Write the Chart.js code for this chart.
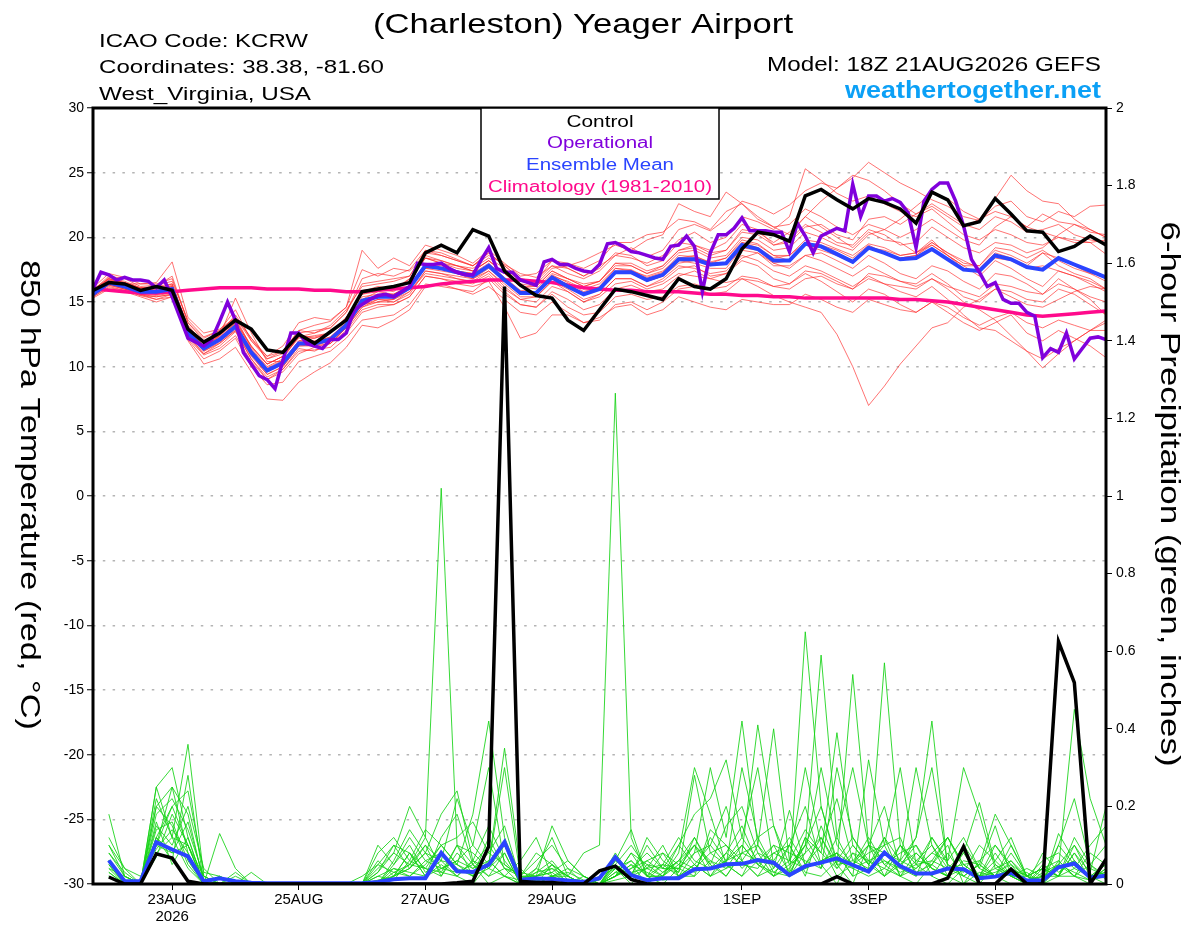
<!DOCTYPE html>
<html>
<head>
<meta charset="utf-8">
<title>(Charleston) Yeager Airport</title>
<script src="https://cdn.jsdelivr.net/npm/chart.js@4"></script>
<style>
  html, body { margin: 0; padding: 0; background: #fff; }
  canvas { display: block; }
</style>
</head>
<body>
<canvas id="chart" width="1200" height="927"></canvas>
<script>
// forecast hours (6-hourly ensemble, 3-hourly operational)
const hours6 = [
  0, 6, 12, 18, 24, 30, 36, 42,
  48, 54, 60, 66, 72, 78, 84, 90,
  96, 102, 108, 114, 120, 126, 132, 138,
  144, 150, 156, 162, 168, 174, 180, 186,
  192, 198, 204, 210, 216, 222, 228, 234,
  240, 246, 252, 258, 264, 270, 276, 282,
  288, 294, 300, 306, 312, 318, 324, 330,
  336, 342, 348, 354, 360, 366, 372, 378,
  384
];
const hours3 = [
  0, 3, 6, 9, 12, 15, 18, 21,
  24, 27, 30, 33, 36, 39, 42, 45,
  48, 51, 54, 57, 60, 63, 66, 69,
  72, 75, 78, 81, 84, 87, 90, 93,
  96, 99, 102, 105, 108, 111, 114, 117,
  120, 123, 126, 129, 132, 135, 138, 141,
  144, 147, 150, 153, 156, 159, 162, 165,
  168, 171, 174, 177, 180, 183, 186, 189,
  192, 195, 198, 201, 204, 207, 210, 213,
  216, 219, 222, 225, 228, 231, 234, 237,
  240, 243, 246, 249, 252, 255, 258, 261,
  264, 267, 270, 273, 276, 279, 282, 285,
  288, 291, 294, 297, 300, 303, 306, 309,
  312, 315, 318, 321, 324, 327, 330, 333,
  336, 339, 342, 345, 348, 351, 354, 357,
  360, 363, 366, 369, 372, 375, 378, 381,
  384
];
// 6-hour precip is valid at the end of each window, so it starts at hour 6
const precipHours = hours6.slice(1);

const xTickHours = [30, 78, 126, 174, 246, 294, 342];
const xTickLabels = [['23AUG', '2026'], '25AUG', '27AUG', '29AUG', '1SEP', '3SEP', '5SEP'];

// 850 hPa temperature (C)
const tempControl = [
  15.9, 16.5, 16.4, 15.9, 16.2, 15.9, 12.9, 11.9,
  12.6, 13.6, 12.9, 11.3, 11.1, 12.5, 11.8, 12.7,
  13.6, 15.8, 16.0, 16.2, 16.5, 18.8, 19.4, 18.8,
  20.6, 20.1, 17.4, 16.3, 15.5, 15.3, 13.6, 12.8,
  14.4, 16.0, 15.8, 15.5, 15.2, 16.8, 16.2, 16.0,
  16.8, 19.1, 20.4, 20.2, 19.7, 23.2, 23.7, 22.9,
  22.2, 23.0, 22.7, 22.2, 21.1, 23.5, 22.9, 20.9,
  21.2, 23.0, 21.8, 20.5, 20.4, 18.9, 19.3, 20.1,
  19.4
];
const tempMean = [
  15.6, 16.5, 16.2, 15.8, 15.8, 16.0, 12.6, 11.4,
  12.1, 13.1, 11.1, 9.7, 10.3, 11.8, 11.8, 12.1,
  13.2, 15.1, 15.4, 15.4, 16.1, 17.8, 17.6, 17.3,
  17.0, 17.8, 16.7, 15.7, 15.7, 16.9, 16.2, 15.6,
  16.0, 17.3, 17.3, 16.7, 17.1, 18.3, 18.3, 17.9,
  18.0, 19.4, 19.1, 18.2, 18.2, 19.5, 19.3, 18.7,
  18.1, 19.2, 18.8, 18.3, 18.4, 19.1, 18.3, 17.5,
  17.4, 18.6, 18.3, 17.7, 17.5, 18.4, 17.9, 17.4,
  16.9
];
const tempClimo = [
  16.0, 15.9, 15.8, 15.7, 15.7, 15.8, 15.9, 16.0,
  16.1, 16.1, 16.1, 16.0, 16.0, 16.0, 15.9, 15.9,
  15.8, 15.8, 15.9, 16.0, 16.1, 16.2, 16.4, 16.5,
  16.6, 16.7, 16.7, 16.7, 16.6, 16.5, 16.3, 16.1,
  16.0, 15.9, 15.9, 15.8, 15.8, 15.8, 15.7, 15.6,
  15.6, 15.5, 15.5, 15.4, 15.4, 15.3, 15.3, 15.3,
  15.3, 15.3, 15.3, 15.2, 15.2, 15.1, 15.0, 14.8,
  14.6, 14.4, 14.2, 14.0, 13.9, 14.0, 14.1, 14.2,
  14.3
];
const tempOper = [
  16.0, 17.3, 17.1, 16.7, 16.9, 16.7, 16.7, 16.6,
  16.1, 16.7, 15.4, 13.8, 12.2, 11.9, 11.6, 12.1,
  13.5, 15.0, 13.6, 11.1, 10.2, 9.3, 9.0, 8.3,
  10.5, 12.6, 12.6, 11.8, 11.6, 11.4, 12.1, 12.1,
  12.6, 14.4, 14.8, 15.2, 15.5, 15.6, 15.4, 15.8,
  16.2, 18.0, 17.9, 17.9, 18.0, 17.6, 17.3, 17.1,
  17.1, 18.2, 19.2, 17.6, 17.3, 17.3, 16.7, 16.5,
  16.3, 18.1, 18.3, 17.9, 17.9, 17.6, 17.4, 17.3,
  17.9, 19.5, 19.6, 19.3, 18.9, 18.8, 18.6, 18.4,
  18.3, 19.3, 19.4, 20.1, 19.3, 15.8, 18.8, 20.2,
  20.2, 20.7, 21.5, 20.5, 20.5, 20.5, 20.4, 20.4,
  18.9, 21.1, 20.1, 18.8, 20.1, 20.4, 20.7, 20.5,
  24.1, 21.6, 23.2, 23.2, 22.8, 23.0, 22.7, 21.9,
  19.2, 22.8, 23.7, 24.2, 24.2, 22.8, 20.9, 18.3,
  17.3, 16.2, 16.5, 15.2, 14.9, 14.9, 14.2, 13.9,
  10.7, 11.4, 11.1, 12.6, 10.6, 11.4, 12.2, 12.3,
  12.1
];
// ensemble members, 6-hourly
const tempMembers = [
  [15.8, 16.8, 16.5, 16.0, 15.9, 16.3, 13.2, 11.8, 12.4, 13.8, 11.5, 10.2, 10.8, 12.3, 12.6, 13.0, 14.2, 16.8, 17.2, 17.0, 17.5, 19.0, 18.8, 18.3, 17.8, 18.6, 17.9, 17.2, 16.9, 17.8, 17.6, 17.0, 17.8, 18.6, 19.2, 18.5, 19.0, 20.6, 21.0, 20.5, 21.4, 22.8, 22.4, 21.8, 22.5, 23.6, 24.2, 23.8, 24.6, 25.8, 25.0, 24.2, 23.6, 22.9, 22.4, 21.6, 21.3, 22.4, 22.8, 21.6, 21.2, 22.0, 21.6, 22.4, 22.5],
  [15.5, 16.3, 16.0, 15.6, 15.2, 15.6, 12.3, 11.0, 11.6, 12.7, 10.6, 9.0, 9.6, 11.0, 11.5, 11.8, 13.0, 14.8, 15.0, 15.2, 15.8, 17.2, 17.0, 16.8, 16.5, 17.2, 16.0, 15.2, 15.0, 16.2, 15.8, 15.0, 15.4, 16.4, 16.6, 16.0, 16.4, 17.2, 17.0, 16.8, 16.5, 16.8, 16.2, 15.5, 15.0, 14.6, 14.2, 12.5, 10.0, 7.0, 8.5, 10.2, 11.6, 13.0, 13.4, 14.6, 15.2, 16.0, 15.4, 14.8, 14.6, 15.2, 15.8, 16.2, 16.0],
  [15.9, 17.0, 16.8, 16.2, 16.3, 16.6, 13.6, 12.3, 12.8, 14.4, 12.0, 10.8, 11.2, 12.8, 13.2, 13.5, 14.6, 17.5, 17.0, 17.6, 17.4, 18.6, 18.2, 17.8, 17.6, 18.4, 17.6, 16.6, 16.4, 17.6, 17.8, 18.2, 18.8, 19.4, 19.0, 19.8, 20.2, 22.6, 22.0, 21.6, 23.5, 22.6, 21.4, 20.8, 20.2, 21.6, 20.8, 20.0, 19.2, 20.4, 19.8, 19.6, 18.8, 19.8, 18.6, 17.8, 17.0, 18.2, 17.6, 16.8, 16.2, 17.4, 17.0, 16.4, 15.8],
  [15.3, 16.0, 15.8, 15.4, 15.0, 15.4, 12.0, 10.2, 10.6, 11.5, 9.6, 7.5, 7.4, 8.8, 9.6, 10.3, 11.5, 13.2, 13.0, 13.6, 14.4, 16.2, 16.4, 16.0, 15.8, 16.8, 15.6, 14.8, 14.6, 15.8, 15.2, 14.4, 14.8, 16.0, 16.3, 15.8, 16.0, 17.0, 17.4, 16.8, 17.2, 18.4, 18.8, 18.0, 17.6, 18.6, 18.8, 18.2, 17.6, 18.6, 18.0, 17.2, 16.8, 17.8, 17.4, 16.6, 16.0, 17.2, 17.0, 16.4, 15.6, 16.8, 16.0, 15.2, 14.0],
  [16.0, 16.8, 16.4, 16.0, 16.2, 16.4, 13.0, 11.8, 12.6, 13.6, 11.4, 10.0, 10.6, 12.4, 12.2, 12.6, 13.8, 15.6, 16.0, 15.8, 16.8, 18.4, 18.2, 17.8, 17.4, 18.2, 17.2, 16.4, 16.2, 17.4, 16.8, 16.4, 16.6, 18.0, 17.8, 17.2, 17.8, 19.0, 19.4, 18.8, 19.0, 20.4, 20.2, 19.4, 19.6, 20.8, 21.0, 20.2, 19.8, 21.4, 21.6, 21.0, 21.8, 22.4, 21.6, 20.8, 21.4, 23.0, 24.8, 23.6, 22.8, 22.6, 21.4, 20.6, 20.0],
  [15.6, 16.4, 16.2, 15.8, 15.6, 15.8, 12.4, 11.2, 11.8, 12.8, 10.8, 9.4, 10.0, 11.6, 11.6, 11.8, 13.0, 14.6, 15.2, 15.0, 15.6, 17.4, 17.2, 17.0, 16.8, 17.4, 16.2, 15.2, 15.4, 16.6, 15.8, 15.0, 15.6, 16.8, 16.8, 16.2, 16.6, 17.6, 17.8, 17.0, 17.2, 18.2, 17.8, 16.8, 16.4, 17.2, 16.6, 15.8, 15.0, 16.0, 15.6, 14.8, 14.2, 15.0, 14.2, 13.4, 12.8, 13.4, 14.0, 12.6, 12.0, 12.8, 12.2, 11.6, 10.7],
  [15.7, 16.6, 16.3, 15.9, 16.0, 16.1, 12.8, 11.6, 12.3, 13.3, 11.3, 9.9, 10.5, 12.0, 11.9, 12.3, 13.4, 15.4, 15.6, 15.6, 16.3, 18.0, 17.8, 17.4, 17.2, 18.0, 16.9, 15.9, 15.8, 17.1, 16.5, 15.8, 16.2, 17.6, 17.5, 16.9, 17.3, 18.6, 18.5, 18.1, 18.4, 19.8, 19.5, 18.6, 18.6, 19.8, 19.6, 19.1, 18.6, 19.5, 19.2, 18.6, 18.8, 19.4, 18.6, 17.8, 17.8, 19.0, 18.6, 18.0, 18.8, 18.4, 17.8, 17.2, 16.6],
  [15.8, 16.9, 16.6, 16.1, 16.2, 17.0, 13.4, 12.0, 12.6, 14.0, 12.2, 10.6, 11.0, 12.6, 12.8, 13.0, 14.2, 16.4, 16.6, 16.8, 17.0, 19.0, 18.6, 18.2, 17.8, 18.8, 17.8, 16.8, 16.6, 17.8, 17.2, 16.8, 17.4, 18.6, 18.4, 18.0, 18.6, 19.8, 20.4, 19.6, 20.0, 21.6, 21.2, 20.6, 21.6, 25.3, 24.4, 23.4, 22.8, 23.2, 22.6, 22.0, 21.6, 22.2, 21.2, 20.2, 19.8, 20.6, 20.2, 19.6, 19.4, 20.0, 19.8, 19.6, 18.7],
  [15.4, 16.2, 15.9, 15.5, 15.4, 15.6, 12.2, 10.9, 11.4, 12.4, 10.4, 9.0, 9.8, 11.2, 11.3, 11.5, 12.6, 14.2, 14.6, 14.8, 15.4, 17.0, 16.8, 16.4, 16.2, 16.6, 14.6, 12.2, 12.6, 14.0, 14.0, 13.4, 13.6, 14.8, 15.0, 14.4, 15.0, 16.0, 16.2, 15.6, 15.8, 16.8, 16.6, 16.2, 16.0, 16.8, 17.0, 16.4, 16.0, 17.2, 17.0, 16.6, 16.4, 17.2, 16.4, 15.4, 15.0, 16.0, 15.8, 15.2, 15.0, 16.0, 15.6, 14.8, 14.0],
  [15.9, 16.7, 16.5, 16.0, 15.8, 16.2, 13.0, 11.4, 12.4, 15.3, 12.6, 10.4, 10.4, 12.0, 12.2, 12.6, 13.6, 15.2, 15.8, 15.6, 16.2, 17.6, 17.6, 17.2, 17.0, 17.8, 16.6, 15.6, 15.6, 16.8, 16.4, 15.6, 16.0, 17.4, 17.4, 16.6, 17.0, 18.2, 18.0, 17.6, 17.6, 19.2, 19.0, 18.0, 18.2, 19.4, 19.0, 18.6, 18.0, 19.2, 18.8, 18.4, 18.6, 19.6, 18.8, 18.2, 17.6, 18.8, 18.4, 17.8, 18.8, 17.8, 17.2, 16.8, 16.0],
  [15.6, 16.6, 16.4, 16.4, 16.5, 18.1, 13.8, 12.6, 12.9, 13.8, 12.2, 10.8, 11.6, 13.4, 13.8, 13.6, 14.6, 19.0, 17.6, 18.4, 17.8, 19.4, 19.0, 18.6, 18.0, 19.0, 18.0, 17.0, 17.2, 18.2, 17.6, 17.0, 17.6, 18.8, 18.6, 17.8, 18.2, 19.6, 19.4, 19.0, 19.6, 21.0, 20.6, 19.4, 19.8, 21.0, 20.4, 19.6, 19.4, 20.6, 20.2, 19.4, 19.6, 20.8, 20.0, 19.2, 18.8, 19.6, 19.4, 18.8, 19.2, 20.2, 21.0, 20.6, 20.0],
  [15.5, 16.4, 16.0, 15.7, 15.6, 15.8, 12.5, 11.3, 12.0, 13.0, 11.0, 9.6, 10.2, 11.8, 11.6, 12.0, 13.2, 14.8, 15.2, 15.2, 16.0, 17.6, 17.4, 17.2, 16.8, 17.6, 16.6, 15.6, 15.6, 16.8, 16.2, 15.6, 16.0, 17.2, 17.2, 16.6, 17.0, 18.0, 18.2, 17.8, 18.0, 19.0, 18.8, 17.8, 17.8, 18.6, 18.2, 17.6, 17.0, 17.8, 17.2, 16.6, 16.2, 16.8, 16.0, 15.0, 14.4, 13.6, 12.4, 11.2, 9.9, 11.0, 12.0, 12.8, 13.6],
  [16.1, 17.2, 16.9, 16.4, 16.4, 16.8, 13.4, 12.2, 12.8, 13.8, 12.0, 10.6, 11.2, 12.8, 12.6, 13.2, 14.4, 16.2, 16.4, 16.6, 17.0, 18.8, 18.6, 18.2, 17.8, 18.8, 17.8, 16.8, 16.6, 18.2, 18.0, 17.6, 18.2, 19.6, 19.6, 20.2, 20.4, 21.4, 21.2, 20.6, 22.0, 22.6, 21.6, 20.8, 21.0, 22.2, 21.6, 20.8, 20.2, 21.0, 20.6, 20.0, 20.6, 21.4, 20.6, 19.8, 19.4, 20.8, 21.6, 20.8, 21.8, 21.2, 21.0, 20.4, 20.2],
  [15.4, 16.1, 15.9, 15.5, 15.2, 15.4, 12.1, 10.6, 11.2, 12.2, 10.0, 8.6, 8.8, 10.4, 10.8, 11.2, 12.2, 13.6, 13.8, 14.0, 14.8, 16.4, 16.2, 16.0, 15.6, 16.2, 15.2, 14.2, 14.0, 15.0, 14.2, 13.4, 13.8, 14.6, 14.8, 14.0, 14.4, 15.4, 15.0, 14.6, 14.4, 15.2, 15.0, 14.8, 14.8, 15.6, 15.2, 14.6, 14.2, 15.2, 14.8, 14.4, 14.2, 15.0, 14.6, 13.8, 13.2, 13.8, 14.2, 13.4, 13.0, 13.6, 13.2, 12.8, 12.8],
  [15.8, 16.5, 16.3, 15.9, 15.9, 16.0, 12.7, 11.5, 12.1, 13.2, 11.2, 9.8, 10.4, 11.9, 12.0, 12.2, 13.3, 15.0, 15.4, 15.3, 16.1, 17.8, 17.6, 17.3, 17.0, 17.9, 16.8, 15.8, 15.8, 17.0, 16.3, 15.7, 16.1, 17.3, 17.4, 16.8, 17.2, 18.4, 18.6, 18.0, 18.0, 19.6, 19.2, 18.4, 18.6, 19.6, 19.4, 19.0, 18.4, 19.4, 18.8, 18.4, 18.6, 19.4, 18.6, 17.6, 17.4, 18.4, 18.2, 17.6, 17.8, 17.4, 17.0, 16.6, 16.0],
  [15.7, 16.7, 16.4, 16.1, 16.0, 16.4, 13.0, 11.6, 12.4, 13.4, 11.6, 10.2, 10.8, 12.2, 12.4, 12.6, 13.8, 15.6, 15.8, 16.2, 16.6, 18.4, 18.0, 17.6, 17.4, 18.2, 17.2, 16.2, 16.0, 17.2, 16.8, 16.2, 16.6, 18.0, 18.0, 17.4, 17.8, 19.0, 19.2, 18.6, 19.0, 20.6, 20.4, 19.6, 20.4, 21.6, 22.8, 23.8, 24.8, 24.4, 23.6, 22.6, 21.8, 22.6, 21.8, 21.0, 20.6, 21.6, 21.2, 20.4, 20.6, 21.0, 20.2, 19.8, 19.6],
  [15.5, 16.3, 16.0, 15.6, 15.5, 15.7, 12.6, 11.2, 11.9, 12.9, 10.9, 9.4, 10.0, 11.6, 11.7, 12.0, 13.0, 14.6, 15.0, 15.0, 15.8, 17.4, 17.2, 16.8, 16.6, 17.4, 16.4, 15.4, 15.4, 16.6, 16.0, 15.2, 15.6, 16.8, 16.8, 16.2, 16.8, 17.8, 17.6, 17.2, 17.4, 18.6, 18.2, 17.4, 17.0, 17.8, 17.4, 16.8, 16.2, 17.0, 16.4, 15.8, 15.4, 16.2, 15.2, 14.0, 13.0, 12.8, 12.0, 11.2, 10.6, 11.4, 12.0, 12.8, 13.4],
  [15.9, 16.6, 16.3, 15.8, 15.7, 16.0, 12.9, 11.6, 12.2, 13.4, 11.3, 9.7, 10.2, 11.7, 11.9, 12.3, 13.4, 15.1, 15.4, 15.6, 16.2, 17.8, 17.6, 17.4, 17.2, 17.8, 16.8, 15.8, 15.6, 17.0, 16.6, 16.0, 16.4, 17.6, 17.4, 17.0, 17.4, 18.4, 18.4, 18.0, 18.4, 19.6, 19.4, 18.6, 18.2, 19.4, 19.2, 18.8, 18.2, 19.2, 19.0, 18.6, 18.8, 19.6, 18.8, 18.0, 17.8, 19.2, 19.0, 18.4, 19.0, 18.2, 17.6, 17.2, 17.0],
  [15.6, 16.4, 16.1, 15.6, 15.4, 15.6, 12.4, 11.0, 11.8, 12.8, 10.6, 9.2, 9.8, 11.4, 11.2, 11.8, 12.8, 14.4, 14.8, 14.8, 15.4, 17.0, 16.8, 16.6, 16.4, 17.0, 15.8, 14.8, 14.6, 15.6, 14.6, 14.0, 14.2, 15.4, 15.6, 15.2, 15.4, 16.2, 16.4, 16.0, 16.2, 17.0, 16.8, 16.2, 16.4, 17.4, 17.2, 16.6, 16.0, 16.8, 16.4, 16.2, 16.0, 16.8, 16.2, 15.8, 15.4, 16.4, 16.2, 15.8, 15.6, 16.4, 16.0, 15.4, 15.0],
  [15.8, 16.8, 16.5, 16.1, 16.1, 16.2, 13.1, 11.8, 12.4, 13.6, 11.6, 10.2, 10.8, 12.3, 12.3, 12.6, 13.8, 15.8, 16.2, 16.0, 16.8, 18.4, 18.0, 17.8, 17.4, 18.2, 17.2, 16.2, 16.2, 17.4, 16.8, 16.2, 16.6, 17.8, 17.8, 17.2, 17.6, 18.8, 19.0, 18.4, 18.6, 20.0, 19.8, 19.0, 19.2, 20.4, 20.0, 19.4, 19.0, 20.2, 20.6, 21.4, 22.4, 23.4, 23.0, 22.0, 21.4, 22.0, 21.6, 20.8, 20.4, 20.0, 19.6, 19.6, 19.8]
];

// 6-hour precipitation (inches), valid at precipHours
const precipControl = [
  0.018, 0, 0, 0.078, 0.067, 0.007, 0, 0,
  0, 0, 0, 0, 0, 0, 0, 0,
  0, 0, 0, 0, 0, 0, 0.003, 0.007,
  0.097, 1.54, 0.007, 0.004, 0.004, 0, 0, 0.034,
  0.046, 0.012, 0, 0, 0, 0, 0, 0,
  0, 0, 0, 0, 0, 0, 0.019, 0,
  0, 0, 0, 0, 0, 0.015, 0.096, 0,
  0, 0.038, 0, 0, 0.625, 0.519, 0, 0.064
];
const precipMean = [
  0.061, 0.007, 0.007, 0.108, 0.089, 0.071, 0.007, 0.015,
  0.007, 0.003, 0.002, 0.002, 0.002, 0.002, 0.002, 0.002,
  0.002, 0.005, 0.012, 0.015, 0.015, 0.08, 0.033, 0.031,
  0.05, 0.108, 0.011, 0.014, 0.013, 0.009, 0.005, 0.015,
  0.069, 0.023, 0.010, 0.015, 0.015, 0.038, 0.040, 0.051,
  0.052, 0.062, 0.055, 0.023, 0.046, 0.055, 0.066, 0.049,
  0.032, 0.081, 0.046, 0.027, 0.027, 0.040, 0.038, 0.015,
  0.019, 0.029, 0.009, 0.009, 0.043, 0.053, 0.017, 0.021
];
const precipMembers = [
  [0.05, 0, 0, 0.12, 0.08, 0.1, 0, 0, 0, 0, 0, 0, 0, 0, 0, 0, 0, 0, 0.02, 0.05, 0.12, 1.02, 0.1, 0.02, 0.04, 0.1, 0, 0, 0.02, 0, 0, 0, 0.02, 0.05, 0, 0.03, 0.06, 0.1, 0.02, 0.08, 0.15, 0.05, 0.02, 0.1, 0.2, 0.05, 0, 0.08, 0.03, 0.12, 0.02, 0, 0.05, 0.1, 0, 0.03, 0.02, 0, 0, 0.05, 0.02, 0.08, 0.01, 0.04],
  [0.02, 0, 0, 0.2, 0.15, 0.05, 0, 0, 0, 0, 0, 0, 0, 0, 0, 0, 0, 0.03, 0.08, 0.05, 0.04, 0.02, 0.1, 0.05, 0, 0.02, 0, 0, 0.05, 0.02, 0.08, 0.1, 1.265, 0.12, 0.02, 0, 0.04, 0.1, 0.05, 0.02, 0.08, 0.1, 0.03, 0.02, 0.65, 0.2, 0.05, 0, 0.1, 0.05, 0.02, 0.08, 0.04, 0.02, 0, 0.06, 0.02, 0.04, 0, 0, 0.1, 0.05, 0.02, 0],
  [0.18, 0.02, 0, 0.1, 0.25, 0.08, 0, 0.02, 0, 0, 0, 0, 0, 0, 0, 0, 0, 0.08, 0.12, 0.06, 0.14, 0.1, 0.05, 0.18, 0.42, 0.12, 0.02, 0.08, 0.05, 0, 0, 0.02, 0.04, 0, 0.05, 0.02, 0.1, 0.18, 0.22, 0.32, 0.12, 0.06, 0.02, 0.05, 0.1, 0.59, 0.12, 0.04, 0.06, 0.02, 0.1, 0.05, 0.02, 0, 0.04, 0.02, 0.08, 0.02, 0, 0.03, 0.05, 0.02, 0, 0.06],
  [0.1, 0.02, 0, 0.08, 0.12, 0.36, 0.02, 0, 0.02, 0, 0, 0, 0, 0, 0, 0, 0, 0, 0.02, 0.04, 0.1, 0.06, 0.02, 0, 0.05, 0.35, 0.04, 0, 0.02, 0.04, 0, 0, 0.06, 0.14, 0.02, 0.05, 0.02, 0.08, 0.3, 0.12, 0.42, 0.1, 0.05, 0.02, 0.08, 0.12, 0.05, 0.54, 0.1, 0.06, 0.04, 0.02, 0.12, 0.05, 0.02, 0, 0.05, 0.02, 0.03, 0, 0.02, 0.1, 0.02, 0.03],
  [0.06, 0, 0, 0.25, 0.3, 0.12, 0, 0.13, 0.04, 0, 0, 0, 0, 0, 0, 0, 0.02, 0.05, 0.1, 0.08, 0.02, 0.12, 0.18, 0.05, 0.1, 0.04, 0.02, 0.02, 0.15, 0.06, 0.02, 0, 0.02, 0.08, 0.02, 0.02, 0.05, 0.03, 0.12, 0.06, 0.08, 0.41, 0.15, 0.02, 0.12, 0.05, 0.08, 0.02, 0.32, 0.1, 0.02, 0.04, 0.08, 0.12, 0.05, 0.02, 0.06, 0.02, 0, 0.02, 0.04, 0.45, 0.22, 0.1],
  [0.02, 0, 0, 0.15, 0.1, 0.2, 0.04, 0, 0, 0.03, 0, 0, 0, 0, 0, 0, 0, 0, 0.06, 0.14, 0.08, 0.03, 0.02, 0.06, 0.02, 0.08, 0, 0.04, 0.12, 0.02, 0, 0, 0.05, 0.02, 0.1, 0.04, 0.03, 0.28, 0.08, 0.05, 0.02, 0.1, 0.4, 0.06, 0.14, 0.08, 0.39, 0.1, 0.05, 0.02, 0.06, 0.3, 0.1, 0.04, 0.02, 0.05, 0.02, 0.08, 0.02, 0, 0.06, 0.02, 0.01, 0.02],
  [0.08, 0.03, 0, 0.18, 0.22, 0.14, 0.02, 0, 0, 0, 0, 0, 0, 0, 0, 0, 0, 0.1, 0.05, 0.12, 0.06, 0.08, 0.04, 0.02, 0.06, 0.02, 0, 0.02, 0.03, 0, 0.02, 0, 0.02, 0.04, 0.06, 0.08, 0.02, 0.05, 0.1, 0.2, 0.06, 0.12, 0.04, 0.19, 0.05, 0.1, 0.22, 0.06, 0.04, 0.57, 0.1, 0.06, 0.05, 0.12, 0.04, 0.02, 0.1, 0.05, 0.02, 0.04, 0.02, 0.08, 0.03, 0.2],
  [0.05, 0, 0, 0.12, 0.06, 0.28, 0, 0, 0, 0, 0, 0, 0, 0, 0, 0, 0, 0.04, 0.08, 0.2, 0.12, 0.04, 0.06, 0.1, 0.3, 0.05, 0.02, 0, 0.02, 0.02, 0, 0, 0.03, 0.02, 0.04, 0.1, 0.02, 0.02, 0.06, 0.04, 0.1, 0.05, 0.08, 0.06, 0.3, 0.1, 0.02, 0.05, 0.1, 0.08, 0.06, 0.12, 0.42, 0.04, 0.08, 0.21, 0.05, 0.02, 0.02, 0, 0.13, 0.06, 0.02, 0.05],
  [0.1, 0.04, 0.02, 0.09, 0.14, 0.08, 0, 0, 0, 0, 0, 0, 0, 0, 0, 0, 0, 0, 0.03, 0.05, 0.1, 0.02, 0.08, 0.04, 0.08, 0.15, 0.01, 0.02, 0.05, 0.02, 0, 0.01, 0.08, 0.02, 0.06, 0.03, 0.06, 0.12, 0.05, 0.15, 0.2, 0.08, 0.02, 0.04, 0.1, 0.2, 0.06, 0.12, 0.05, 0.1, 0.3, 0.05, 0.12, 0.06, 0.3, 0.18, 0.04, 0.06, 0.01, 0.02, 0.05, 0.1, 0.04, 0.02],
  [0.03, 0, 0, 0.25, 0.12, 0.04, 0, 0, 0, 0, 0, 0, 0, 0, 0, 0, 0, 0, 0.02, 0.04, 0.08, 0.18, 0.24, 0.06, 0.04, 0.02, 0.06, 0.12, 0.02, 0, 0, 0, 0.04, 0.06, 0.02, 0.02, 0.08, 0.3, 0.18, 0.05, 0.02, 0.06, 0.1, 0.03, 0.1, 0.04, 0.12, 0.3, 0.1, 0.02, 0.05, 0.08, 0.04, 0.02, 0.1, 0.04, 0.15, 0.02, 0.04, 0.02, 0.02, 0.04, 0.1, 0.15],
  [0.04, 0.02, 0, 0.2, 0.25, 0.18, 0, 0, 0, 0, 0, 0, 0, 0, 0, 0, 0, 0.02, 0.04, 0.02, 0.05, 0.1, 0.12, 0.16, 0.08, 0.05, 0.02, 0.01, 0, 0, 0, 0, 0.02, 0.08, 0.05, 0.04, 0.1, 0.05, 0.02, 0.06, 0.12, 0.3, 0.05, 0.02, 0.04, 0.06, 0.08, 0.05, 0.08, 0.1, 0.12, 0.02, 0.06, 0.04, 0.05, 0.02, 0.02, 0.1, 0.02, 0.04, 0.06, 0.02, 0.08, 0.05],
  [0.12, 0.04, 0, 0.1, 0.2, 0.24, 0.03, 0.02, 0, 0, 0, 0, 0, 0, 0, 0, 0, 0, 0.05, 0.1, 0.03, 0.06, 0.05, 0.02, 0.12, 0.04, 0.03, 0.02, 0.04, 0.02, 0, 0, 0.02, 0.04, 0.08, 0.04, 0.04, 0.02, 0.14, 0.1, 0.06, 0.02, 0.08, 0.1, 0.02, 0.15, 0.05, 0.06, 0.1, 0.2, 0.04, 0.12, 0.3, 0.05, 0.03, 0.1, 0.06, 0.12, 0.02, 0, 0.04, 0.06, 0.02, 0.05],
  [0.06, 0.01, 0, 0.16, 0.05, 0.12, 0, 0, 0, 0, 0, 0, 0, 0, 0, 0, 0, 0.06, 0.02, 0.08, 0.04, 0.1, 0.05, 0.03, 0.05, 0.1, 0.02, 0.06, 0.1, 0.04, 0.02, 0, 0.05, 0.1, 0.04, 0.05, 0.04, 0.08, 0.1, 0.05, 0.3, 0.12, 0.15, 0.05, 0.08, 0.3, 0.1, 0.05, 0.12, 0.05, 0.08, 0.1, 0.02, 0.08, 0.02, 0.05, 0.18, 0.1, 0.02, 0.04, 0.02, 0.12, 0.05, 0.02],
  [0.02, 0, 0, 0.07, 0.18, 0.1, 0.02, 0, 0, 0, 0, 0, 0, 0, 0, 0, 0, 0.02, 0.01, 0.06, 0.04, 0.03, 0.1, 0.08, 0.04, 0.08, 0, 0.03, 0.04, 0, 0, 0, 0.01, 0.02, 0.12, 0.06, 0.03, 0.12, 0.04, 0.08, 0.05, 0.04, 0.1, 0.08, 0.06, 0.04, 0.3, 0.12, 0.06, 0.04, 0.02, 0.06, 0.1, 0.02, 0.06, 0.05, 0.02, 0.04, 0.01, 0.02, 0.1, 0.22, 0.05, 0.1],
  [0.08, 0.02, 0, 0.14, 0.16, 0.06, 0, 0, 0, 0, 0, 0, 0, 0, 0, 0, 0, 0, 0.04, 0.03, 0.02, 0.05, 0.02, 0.06, 0.15, 0.06, 0.01, 0.04, 0.02, 0.03, 0.01, 0, 0.03, 0.06, 0.02, 0.08, 0.05, 0.1, 0.06, 0.02, 0.08, 0.06, 0.05, 0.02, 0.12, 0.08, 0.04, 0.1, 0.05, 0.12, 0.06, 0.04, 0.08, 0.06, 0.12, 0.04, 0.02, 0.06, 0.02, 0.06, 0.08, 0.04, 0.02, 0.03],
  [0.04, 0, 0, 0.1, 0.08, 0.16, 0.01, 0, 0.03, 0, 0, 0, 0, 0, 0, 0, 0, 0.03, 0.1, 0.04, 0.08, 0.06, 0.22, 0.1, 0.05, 0.3, 0.02, 0.02, 0.03, 0.06, 0.02, 0, 0.06, 0.03, 0.04, 0.02, 0.06, 0.04, 0.08, 0.1, 0.04, 0.08, 0.06, 0.12, 0.05, 0.12, 0.04, 0.08, 0.06, 0.08, 0.05, 0.1, 0.04, 0.02, 0.08, 0.02, 0.04, 0.02, 0, 0.08, 0.03, 0.06, 0.02, 0.02],
  [0.03, 0, 0, 0.22, 0.12, 0.1, 0, 0, 0, 0, 0, 0, 0, 0, 0, 0, 0, 0.05, 0.03, 0.02, 0.06, 0.04, 0.03, 0.05, 0.02, 0.04, 0, 0.01, 0.02, 0, 0, 0, 0.04, 0.02, 0.01, 0.05, 0.12, 0.06, 0.04, 0.06, 0.1, 0.05, 0.03, 0.06, 0.04, 0.06, 0.08, 0.02, 0.04, 0.06, 0.03, 0.05, 0.06, 0.12, 0.05, 0.06, 0.1, 0.04, 0.02, 0.01, 0.05, 0.03, 0.01, 0.04],
  [0.06, 0.01, 0, 0.12, 0.2, 0.1, 0, 0.02, 0, 0, 0, 0, 0, 0, 0, 0, 0, 0.01, 0.02, 0.08, 0.02, 0.04, 0.06, 0.04, 0.06, 0.02, 0.01, 0.03, 0.06, 0.01, 0, 0, 0.02, 0.05, 0.03, 0.01, 0.02, 0.05, 0.02, 0.04, 0.06, 0.02, 0.04, 0.1, 0.03, 0.02, 0.06, 0.04, 0.02, 0.04, 0.1, 0.03, 0.05, 0.02, 0.04, 0.02, 0.03, 0.05, 0, 0.04, 0.02, 0.02, 0.05, 0.01]
];

const FONT = '"Liberation Sans", Arial, Helvetica, sans-serif';
const CONTROL = '#000000';
const OPER = '#8000dc';
const MEAN = '#2a44ff';
const CLIMO = '#ff0a8c';
const MEMBER_RED = 'rgba(255, 40, 40, 0.65)';
const MEMBER_GREEN = 'rgba(20, 210, 20, 0.85)';

function pairs(xs, ys) {
  return ys.map((v, i) => ({ x: xs[i], y: v }));
}

function line(label, xs, ys, color, width, axis, order) {
  return {
    label: label,
    data: pairs(xs, ys),
    borderColor: color,
    borderWidth: width,
    yAxisID: axis,
    order: order,
    pointRadius: 0,
    fill: false,
    tension: 0
  };
}

const datasets = [];
precipMembers.forEach((m, i) => datasets.push(line('precip member ' + (i + 1), precipHours, m, MEMBER_GREEN, 1, 'y2', 20)));
tempMembers.forEach((m, i) => datasets.push(line('temp member ' + (i + 1), hours6, m, MEMBER_RED, 1, 'y', 10)));
datasets.push(line('Climatology (1981-2010)', hours6, tempClimo, CLIMO, 3.5, 'y', 5));
datasets.push(line('Ensemble Mean precip', precipHours, precipMean, MEAN, 4, 'y2', 4));
datasets.push(line('Ensemble Mean', hours6, tempMean, MEAN, 4, 'y', 3));
datasets.push(line('Operational', hours3, tempOper, OPER, 3.5, 'y', 2));
datasets.push(line('Control precip', precipHours, precipControl, CONTROL, 3.5, 'y2', 1));
datasets.push(line('Control', hours6, tempControl, CONTROL, 3.5, 'y', 1));

// draws a line of text squeezed/stretched to a given width
function fitText(ctx, str, x, y, w, font, color, align) {
  ctx.save();
  ctx.font = font;
  ctx.fillStyle = color;
  ctx.textAlign = align;
  ctx.textBaseline = 'alphabetic';
  const m = ctx.measureText(str).width;
  ctx.translate(x, y);
  ctx.scale(w / m, 1);
  ctx.fillText(str, 0, 0);
  ctx.restore();
}

function sideText(ctx, str, x, y, len, font) {
  ctx.save();
  ctx.font = font;
  ctx.fillStyle = '#000';
  ctx.textAlign = 'center';
  ctx.textBaseline = 'alphabetic';
  const m = ctx.measureText(str).width;
  ctx.translate(x, y);
  ctx.rotate(Math.PI / 2);
  ctx.scale(len / m, 1);
  ctx.fillText(str, 0, 0);
  ctx.restore();
}

const frame = {
  id: 'frame',
  afterDatasetsDraw(chart) {
    const a = chart.chartArea;
    const ctx = chart.ctx;
    ctx.save();
    ctx.strokeStyle = '#000';
    ctx.lineWidth = 3;
    ctx.strokeRect(a.left, a.top, a.right - a.left, a.bottom - a.top);
    ctx.restore();
  }
};

const annotations = {
  id: 'annotations',
  afterDraw(chart) {
    const ctx = chart.ctx;
    fitText(ctx, '(Charleston) Yeager Airport', 583, 33, 420, '28px ' + FONT, '#000', 'center');
    fitText(ctx, 'ICAO Code: KCRW', 99, 47, 209, '19px ' + FONT, '#000', 'left');
    fitText(ctx, 'Coordinates: 38.38, -81.60', 99, 73, 285, '19px ' + FONT, '#000', 'left');
    fitText(ctx, 'West_Virginia, USA', 99, 100, 212, '19px ' + FONT, '#000', 'left');
    fitText(ctx, 'Model: 18Z 21AUG2026 GEFS', 1101, 71, 334, '20px ' + FONT, '#000', 'right');
    fitText(ctx, 'weathertogether.net', 1101, 98, 256, 'bold 23px ' + FONT, '#0ba0f6', 'right');

    // legend box
    ctx.save();
    ctx.fillStyle = '#fff';
    ctx.fillRect(481, 108, 238, 91);
    ctx.strokeStyle = '#000';
    ctx.lineWidth = 1.5;
    ctx.strokeRect(481, 108, 238, 91);
    ctx.restore();
    fitText(ctx, 'Control', 600, 127, 67, '16px ' + FONT, CONTROL, 'center');
    fitText(ctx, 'Operational', 600, 148, 106, '16px ' + FONT, OPER, 'center');
    fitText(ctx, 'Ensemble Mean', 600, 170, 148, '16px ' + FONT, MEAN, 'center');
    fitText(ctx, 'Climatology (1981-2010)', 600, 192, 224, '16px ' + FONT, CLIMO, 'center');

    sideText(ctx, '850 hPa Temperature (red, \u00b0C)', 21, 495, 470, '28px ' + FONT);
    sideText(ctx, '6-hour Precipitation (green, inches)', 1161, 494, 545, '28px ' + FONT);
  }
};

const canvasElem = document.getElementById('chart');

new Chart(canvasElem, {
  type: 'line',
  data: { datasets: datasets },
  options: {
    responsive: false,
    animation: false,
    devicePixelRatio: 1,
    events: [],
    layout: { padding: { top: 108, left: 0, right: 0, bottom: 0 } },
    plugins: {
      legend: { display: false },
      title: { display: false },
      tooltip: { enabled: false }
    },
    scales: {
      x: {
        type: 'linear',
        min: 0,
        max: 384,
        afterBuildTicks: (scale) => { scale.ticks = xTickHours.map(v => ({ value: v })); },
        afterFit: (scale) => { scale.height = 43; },
        grid: { drawOnChartArea: false, color: '#000', tickLength: 6, lineWidth: 1 },
        border: { display: false },
        ticks: {
          autoSkip: false,
          maxRotation: 0,
          padding: 1,
          color: '#000',
          font: { family: FONT, size: 15, lineHeight: 1.15 },
          callback: (value, index) => xTickLabels[index]
        }
      },
      y: {
        position: 'left',
        min: -30,
        max: 30,
        afterFit: (scale) => { scale.width = 93; },
        grid: {
          color: '#b4b4b4',
          lineWidth: 1.5,
          tickLength: 6,
          tickColor: '#000',
          tickWidth: 1
        },
        border: { display: false, dash: [2.5, 7.3] },
        ticks: {
          stepSize: 5,
          padding: 3,
          color: '#000',
          font: { family: FONT, size: 14 }
        }
      },
      y2: {
        position: 'right',
        min: 0,
        max: 2,
        afterFit: (scale) => { scale.width = 94; },
        grid: { drawOnChartArea: false, color: '#000', tickLength: 6, lineWidth: 1 },
        border: { display: false },
        ticks: {
          stepSize: 0.2,
          padding: 4,
          color: '#000',
          font: { family: FONT, size: 14 },
          callback: (v) => String(Math.round(v * 10) / 10)
        }
      }
    }
  },
  plugins: [frame, annotations]
});
</script>
</body>
</html>
